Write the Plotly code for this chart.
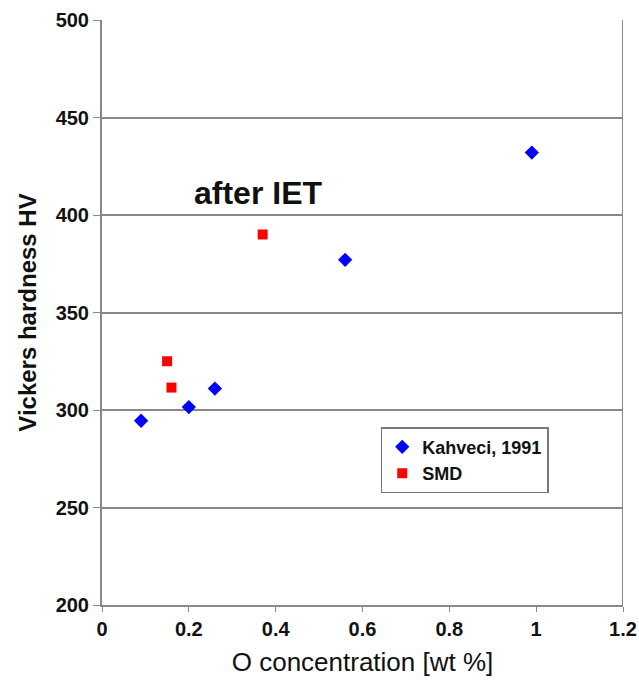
import plotly.graph_objects as go

kahveci_x = [0.09, 0.20, 0.26, 0.56, 0.99]
kahveci_y = [294.5, 301.5, 311, 377, 432]
smd_x = [0.15, 0.16, 0.37]
smd_y = [325, 311.5, 390]

x_ticks = [0, 0.2, 0.4, 0.6, 0.8, 1, 1.2]
x_tick_labels = ["0", "0.2", "0.4", "0.6", "0.8", "1", "1.2"]
y_ticks = [200, 250, 300, 350, 400, 450, 500]

FONT = "Liberation Sans, Arial, sans-serif"

fig = go.Figure()
fig.add_trace(go.Scatter(x=kahveci_x, y=kahveci_y, mode="markers", name="<b>Kahveci, 1991</b>",
                         marker=dict(symbol="diamond", color="#0000ff", size=11)))
fig.add_trace(go.Scatter(x=smd_x, y=smd_y, mode="markers", name="<b>SMD</b>",
                         marker=dict(symbol="square", color="#ff0000", size=10)))

fig.add_annotation(x=0.36, y=411.5, text="<b>after IET</b>", showarrow=False,
                   font=dict(family=FONT, size=32, color="#111"))

fig.update_layout(
    width=639, height=686,
    margin=dict(l=102, r=16, t=20, b=81),
    plot_bgcolor="white", paper_bgcolor="white",
    font=dict(family=FONT, color="#111"),
    showlegend=True,
    legend=dict(x=0.535, y=0.304, xanchor="left", yanchor="top",
                bordercolor="#777", borderwidth=1.5, bgcolor="white",
                font=dict(family=FONT, size=18, color="#111"),
                itemwidth=30, tracegroupgap=0),
    xaxis=dict(range=[0, 1.2], tickvals=x_ticks, ticktext=[f"<b>{t}</b>" for t in x_tick_labels],
               automargin=False,
               showgrid=False, zeroline=False, showline=True, linecolor="#888", linewidth=2,
               mirror=False, ticks="outside", ticklen=5, tickcolor="#888",
               tickfont=dict(family=FONT, size=20, color="#111"),
               title=dict(text="O concentration [wt %]", font=dict(family=FONT, size=26, color="#111"), standoff=14)),
    yaxis=dict(range=[200, 500], tickvals=y_ticks, ticktext=[f"<b>{t}</b>" for t in y_ticks],
               automargin=False,
               showgrid=True, gridcolor="#888", gridwidth=2, zeroline=False,
               showline=True, linecolor="#888", linewidth=2,
               ticks="outside", ticklen=7, tickcolor="#888",
               tickfont=dict(family=FONT, size=20, color="#111"),
               title=dict(text="<b>Vickers hardness HV</b>", font=dict(family=FONT, size=24, color="#111"), standoff=12)),
)
# right border line
fig.add_shape(type="line", xref="x", yref="paper", x0=1.2, x1=1.2, y0=0, y1=1,
              line=dict(color="#888", width=2))

fig.write_html("out.html")
